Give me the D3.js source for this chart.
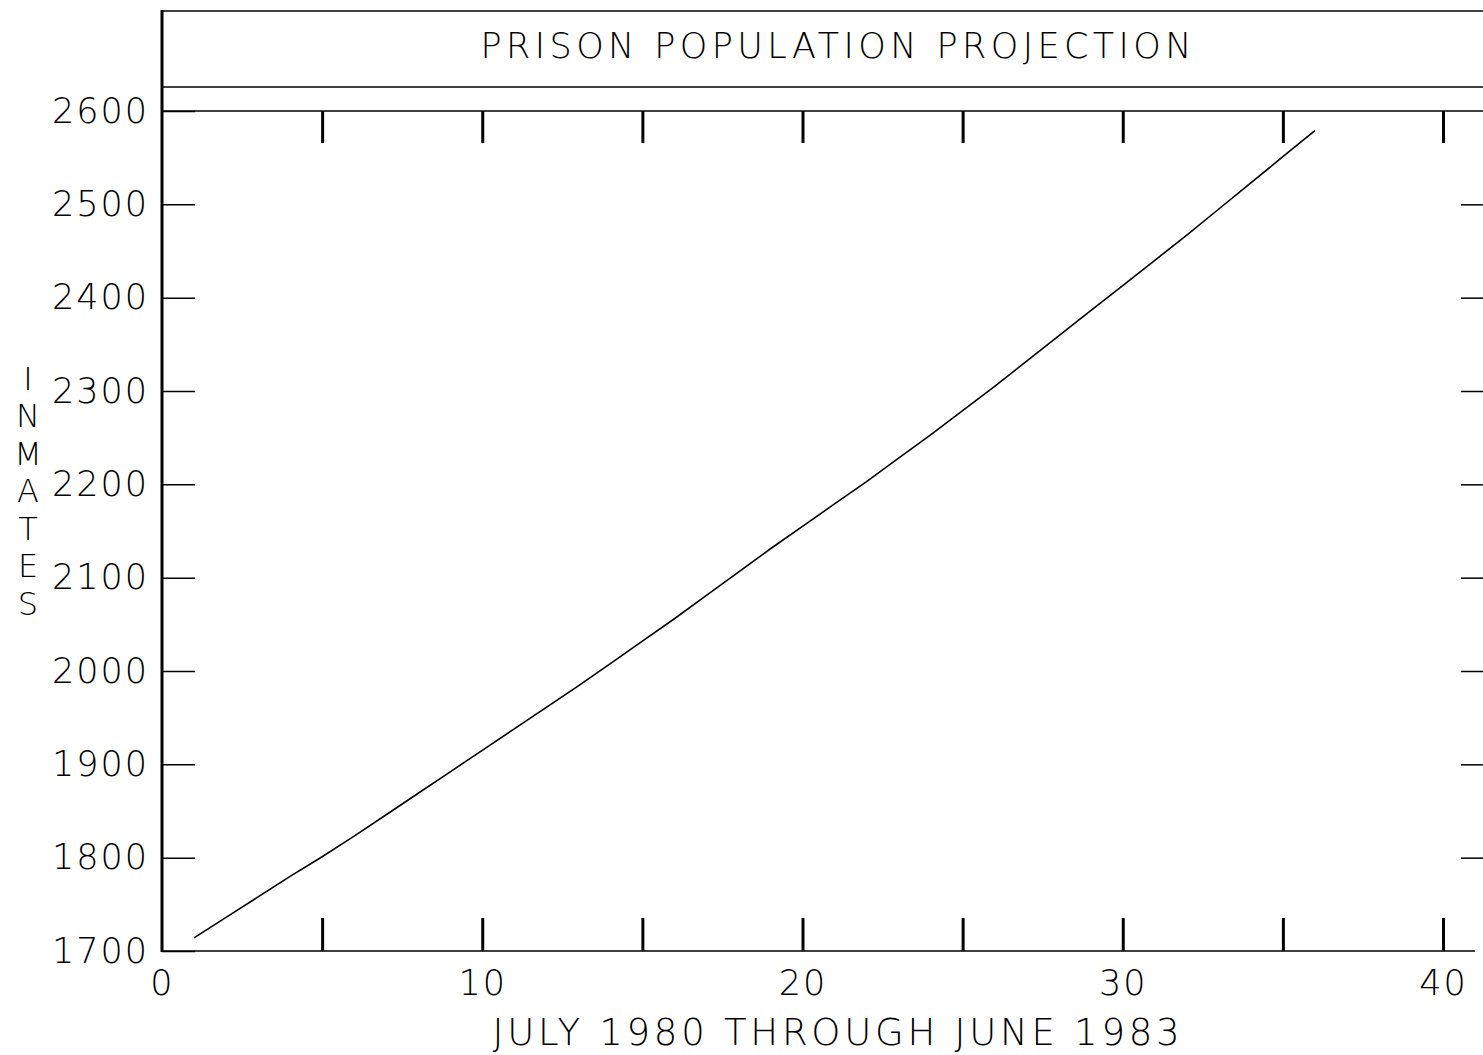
<!DOCTYPE html>
<html><head><meta charset="utf-8">
<script src="https://cdn.jsdelivr.net/npm/d3@7"></script>
<style>
body{margin:0;background:#fff}
text{font-family:"DejaVu Sans",sans-serif;font-weight:200;fill:#000}
</style>
</head><body>
<svg id="c" width="1483" height="1055"></svg>
<script>
// ---- data ----
const months = [1,2,3,4,5,6,7,8,9,10,11,12,13,14,15,16,17,18,19,20,21,22,23,24,25,26,27,28,29,30,31,32,33,34,35,36];
const inmates = [1714,1736,1758,1780,1801,1823,1846,1869,1892,1915,1938,1961,1984,2008,2032,2056,2081,2106,
                 2131,2155,2179,2203,2228,2253,2279,2305,2332,2359,2386,2413,2440,2467,2495,2523,2551,2579];
const xTickValues = [5,10,15,20,25,30,35,40];
const xLabelValues = [0,10,20,30,40];
const yTickValues = [1700,1800,1900,2000,2100,2200,2300,2400,2500,2600];
const titleText = "PRISON POPULATION PROJECTION";
const xTitleText = "JULY 1980 THROUGH JUNE 1983";
const yTitleText = "INMATES";

// ---- layout ----
const W = 1483, H = 1055;
const mLeft = 162, mRight = 1443, mTop = 111, mBottom = 951;
const svg = d3.select("#c");
svg.append("rect").attr("width", W).attr("height", H).attr("fill", "#fff");

const x = d3.scaleLinear().domain([0, 40]).range([mLeft, mRight]);
const y = d3.scaleLinear().domain([1700, 2600]).range([mBottom, mTop]);

// frame lines
const frame = svg.append("g").attr("stroke", "#000").attr("fill", "none");
frame.append("line").attr("x1", mLeft).attr("x2", W).attr("y1", 11).attr("y2", 11).attr("stroke-width", 1.5);
frame.append("line").attr("x1", mLeft).attr("x2", W).attr("y1", 87).attr("y2", 87).attr("stroke-width", 1.5);
frame.append("line").attr("x1", mLeft).attr("x2", W).attr("y1", y(2600)).attr("y2", y(2600)).attr("stroke-width", 1.5);
frame.append("line").attr("x1", mLeft).attr("x2", x(41)).attr("y1", y(1700)).attr("y2", y(1700)).attr("stroke-width", 1.5);
frame.append("line").attr("x1", mLeft).attr("x2", mLeft).attr("y1", 10).attr("y2", y(1700) + 1).attr("stroke-width", 3);

function styleAxis(g, tickWidth) {
  g.select(".domain").remove();
  g.selectAll(".tick line").attr("stroke", "#000").attr("stroke-width", tickWidth);
  g.selectAll(".tick text").attr("fill", "#000").style("font-family", "'DejaVu Sans',sans-serif").style("font-weight", 200);
}

// left y axis
const gy = svg.append("g").attr("transform", `translate(${mLeft},0)`)
  .call(d3.axisLeft(y).tickValues(yTickValues).tickSize(-33).tickPadding(13).tickFormat(d3.format("d")));
styleAxis(gy, 1.5);
gy.selectAll(".tick text").style("font-size", "35px").style("letter-spacing", "2px");

// right y ticks
const gyr = svg.append("g").attr("transform", `translate(${W + 8},0)`)
  .call(d3.axisRight(y).tickValues(yTickValues.slice(1, -1)).tickSize(-30).tickFormat(""));
styleAxis(gyr, 1.5);

// bottom ticks
const gxb = svg.append("g").attr("transform", `translate(0,${mBottom})`)
  .call(d3.axisBottom(x).tickValues(xTickValues).tickSize(-33).tickFormat(""));
styleAxis(gxb, 3);

// top ticks
const gxt = svg.append("g").attr("transform", `translate(0,${mTop})`)
  .call(d3.axisTop(x).tickValues(xTickValues).tickSize(-32).tickFormat(""));
styleAxis(gxt, 3);

// x labels
const gxl = svg.append("g").attr("transform", `translate(0,${mBottom})`)
  .call(d3.axisBottom(x).tickValues(xLabelValues).tickSize(0).tickPadding(19).tickFormat(d3.format("d")));
styleAxis(gxl, 0);
gxl.selectAll(".tick text").style("font-size", "35px").style("letter-spacing", "2px");

// line
const line = d3.line().x((d, i) => x(months[i])).y(d => y(d));
svg.append("path").datum(inmates)
  .attr("d", line).attr("fill", "none").attr("stroke", "#000").attr("stroke-width", 1.6);

// title
svg.append("text").attr("x", 836).attr("y", 58).attr("text-anchor", "middle")
  .style("font-size", "35px").attr("textLength", 711).attr("lengthAdjust", "spacing").text(titleText);

// x title
svg.append("text").attr("x", 836).attr("y", 1045).attr("text-anchor", "middle")
  .style("font-size", "37px").attr("textLength", 687).attr("lengthAdjust", "spacing").text(xTitleText);

// y title (stacked letters)
svg.append("g").selectAll("text").data(yTitleText.split("")).join("text")
  .attr("x", 28).attr("y", (d, i) => 378 + i * 37.5).attr("dy", "0.36em")
  .attr("text-anchor", "middle").style("font-size", "32px").text(d => d);
</script>
</body></html>
